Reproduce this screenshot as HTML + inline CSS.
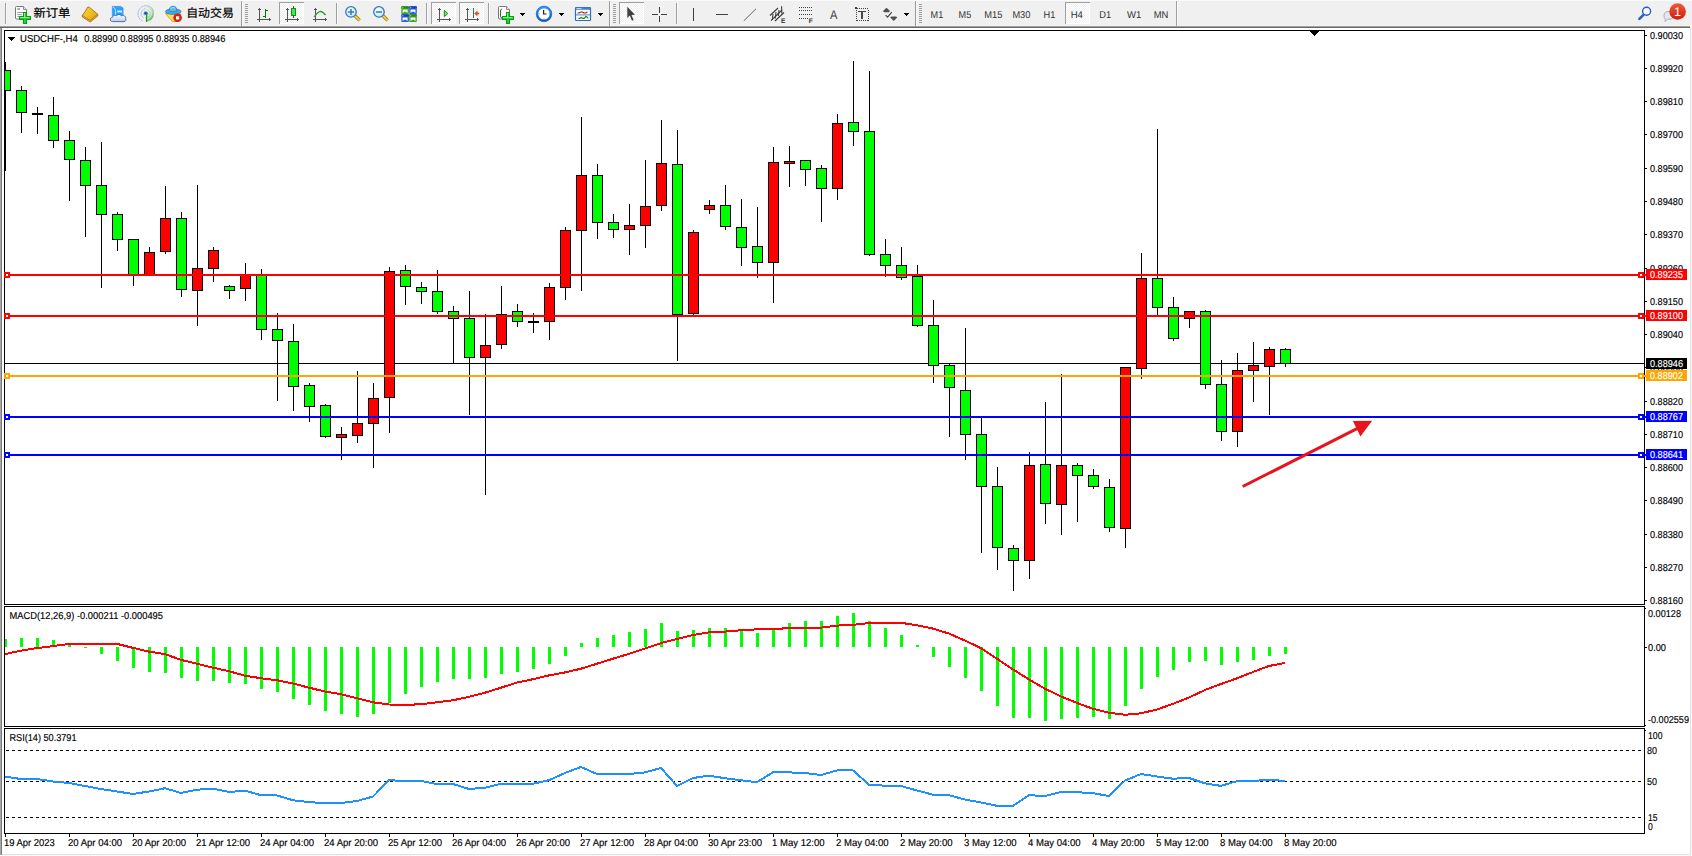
<!DOCTYPE html>
<html lang="zh"><head><meta charset="utf-8"><title>USDCHF-,H4</title>
<style>
html,body{margin:0;padding:0;background:#fff}
body{width:1692px;height:856px;overflow:hidden;position:relative}
svg{position:absolute;left:0;top:0;display:block}
text{font-family:"Liberation Sans","Noto Sans CJK SC",sans-serif}
</style></head><body>
<svg width="1692" height="856" viewBox="0 0 1692 856">
<rect x="0" y="0" width="1692" height="856" fill="#fff"/>
<g shape-rendering="crispEdges">
<rect x="0" y="27" width="1" height="828" fill="#a8a8a8"/>
<rect x="1" y="27" width="1" height="828" fill="#7a7a7a"/>
<rect x="1690" y="28" width="1" height="827" fill="#e3e3e3"/>
<rect x="1691" y="28" width="1" height="828" fill="#f8f8f8"/>
<rect x="2" y="854" width="1689" height="1" fill="#e3e3e3"/>
<rect x="2" y="855" width="1690" height="1" fill="#f8f8f8"/>
<rect x="1644" y="30" width="1" height="575" fill="#000000"/>
<rect x="4" y="30" width="1" height="575" fill="#000000"/>
<rect x="1644" y="606" width="1" height="121" fill="#000000"/>
<rect x="4" y="606" width="1" height="121" fill="#000000"/>
<rect x="1644" y="728" width="1" height="106" fill="#000000"/>
<rect x="4" y="728" width="1" height="106" fill="#000000"/>
<rect x="1645" y="608" width="1" height="1" fill="#000000"/>
<rect x="1645" y="725" width="1" height="1" fill="#000000"/>
<rect x="1645" y="730" width="1" height="1" fill="#000000"/>
<rect x="4" y="30" width="1641" height="1" fill="#000000"/>
<rect x="4" y="604" width="1641" height="1" fill="#000000"/>
<rect x="4" y="606" width="1641" height="1" fill="#000000"/>
<rect x="4" y="726" width="1641" height="1" fill="#000000"/>
<rect x="4" y="728" width="1641" height="1" fill="#000000"/>
<rect x="4" y="833" width="1641" height="1" fill="#000000"/>
<rect x="5" y="363" width="1639" height="1" fill="#000000"/>
<rect x="5" y="62" width="1" height="109" fill="#000000"/>
<rect x="5" y="70" width="6" height="21" fill="#000000"/>
<rect x="5" y="71" width="5" height="19" fill="#00FF00"/>
<rect x="21" y="86" width="1" height="47" fill="#000000"/>
<rect x="16" y="90" width="11" height="23" fill="#000000"/>
<rect x="17" y="91" width="9" height="21" fill="#00FF00"/>
<rect x="37" y="107" width="1" height="27" fill="#000000"/>
<rect x="32" y="113" width="11" height="2" fill="#000000"/>
<rect x="53" y="97" width="1" height="51" fill="#000000"/>
<rect x="48" y="115" width="11" height="26" fill="#000000"/>
<rect x="49" y="116" width="9" height="24" fill="#00FF00"/>
<rect x="69" y="131" width="1" height="70" fill="#000000"/>
<rect x="64" y="140" width="11" height="20" fill="#000000"/>
<rect x="65" y="141" width="9" height="18" fill="#00FF00"/>
<rect x="85" y="147" width="1" height="90" fill="#000000"/>
<rect x="80" y="160" width="11" height="26" fill="#000000"/>
<rect x="81" y="161" width="9" height="24" fill="#00FF00"/>
<rect x="101" y="142" width="1" height="146" fill="#000000"/>
<rect x="96" y="185" width="11" height="30" fill="#000000"/>
<rect x="97" y="186" width="9" height="28" fill="#00FF00"/>
<rect x="117" y="212" width="1" height="39" fill="#000000"/>
<rect x="112" y="214" width="11" height="26" fill="#000000"/>
<rect x="113" y="215" width="9" height="24" fill="#00FF00"/>
<rect x="133" y="239" width="1" height="47" fill="#000000"/>
<rect x="128" y="239" width="11" height="37" fill="#000000"/>
<rect x="129" y="240" width="9" height="35" fill="#00FF00"/>
<rect x="149" y="247" width="1" height="29" fill="#000000"/>
<rect x="144" y="252" width="11" height="24" fill="#000000"/>
<rect x="145" y="253" width="9" height="22" fill="#FF0000"/>
<rect x="165" y="186" width="1" height="68" fill="#000000"/>
<rect x="160" y="218" width="11" height="34" fill="#000000"/>
<rect x="161" y="219" width="9" height="32" fill="#FF0000"/>
<rect x="181" y="212" width="1" height="85" fill="#000000"/>
<rect x="176" y="218" width="11" height="72" fill="#000000"/>
<rect x="177" y="219" width="9" height="70" fill="#00FF00"/>
<rect x="197" y="185" width="1" height="141" fill="#000000"/>
<rect x="192" y="268" width="11" height="23" fill="#000000"/>
<rect x="193" y="269" width="9" height="21" fill="#FF0000"/>
<rect x="213" y="247" width="1" height="35" fill="#000000"/>
<rect x="208" y="250" width="11" height="19" fill="#000000"/>
<rect x="209" y="251" width="9" height="17" fill="#FF0000"/>
<rect x="229" y="285" width="1" height="14" fill="#000000"/>
<rect x="224" y="286" width="11" height="5" fill="#000000"/>
<rect x="225" y="287" width="9" height="3" fill="#00FF00"/>
<rect x="245" y="263" width="1" height="38" fill="#000000"/>
<rect x="240" y="274" width="11" height="15" fill="#000000"/>
<rect x="241" y="275" width="9" height="13" fill="#FF0000"/>
<rect x="261" y="269" width="1" height="71" fill="#000000"/>
<rect x="256" y="274" width="11" height="56" fill="#000000"/>
<rect x="257" y="275" width="9" height="54" fill="#00FF00"/>
<rect x="277" y="313" width="1" height="88" fill="#000000"/>
<rect x="272" y="329" width="11" height="12" fill="#000000"/>
<rect x="273" y="330" width="9" height="10" fill="#00FF00"/>
<rect x="293" y="324" width="1" height="87" fill="#000000"/>
<rect x="288" y="341" width="11" height="46" fill="#000000"/>
<rect x="289" y="342" width="9" height="44" fill="#00FF00"/>
<rect x="309" y="383" width="1" height="39" fill="#000000"/>
<rect x="304" y="385" width="11" height="22" fill="#000000"/>
<rect x="305" y="386" width="9" height="20" fill="#00FF00"/>
<rect x="325" y="404" width="1" height="34" fill="#000000"/>
<rect x="320" y="405" width="11" height="32" fill="#000000"/>
<rect x="321" y="406" width="9" height="30" fill="#00FF00"/>
<rect x="341" y="427" width="1" height="33" fill="#000000"/>
<rect x="336" y="434" width="11" height="4" fill="#000000"/>
<rect x="337" y="435" width="9" height="2" fill="#FF0000"/>
<rect x="357" y="371" width="1" height="72" fill="#000000"/>
<rect x="352" y="423" width="11" height="13" fill="#000000"/>
<rect x="353" y="424" width="9" height="11" fill="#FF0000"/>
<rect x="373" y="383" width="1" height="85" fill="#000000"/>
<rect x="368" y="398" width="11" height="26" fill="#000000"/>
<rect x="369" y="399" width="9" height="24" fill="#FF0000"/>
<rect x="389" y="267" width="1" height="166" fill="#000000"/>
<rect x="384" y="271" width="11" height="127" fill="#000000"/>
<rect x="385" y="272" width="9" height="125" fill="#FF0000"/>
<rect x="405" y="265" width="1" height="40" fill="#000000"/>
<rect x="400" y="270" width="11" height="17" fill="#000000"/>
<rect x="401" y="271" width="9" height="15" fill="#00FF00"/>
<rect x="421" y="282" width="1" height="22" fill="#000000"/>
<rect x="416" y="287" width="11" height="5" fill="#000000"/>
<rect x="417" y="288" width="9" height="3" fill="#00FF00"/>
<rect x="437" y="270" width="1" height="44" fill="#000000"/>
<rect x="432" y="291" width="11" height="21" fill="#000000"/>
<rect x="433" y="292" width="9" height="19" fill="#00FF00"/>
<rect x="453" y="306" width="1" height="58" fill="#000000"/>
<rect x="448" y="311" width="11" height="8" fill="#000000"/>
<rect x="449" y="312" width="9" height="6" fill="#00FF00"/>
<rect x="469" y="291" width="1" height="124" fill="#000000"/>
<rect x="464" y="318" width="11" height="40" fill="#000000"/>
<rect x="465" y="319" width="9" height="38" fill="#00FF00"/>
<rect x="485" y="314" width="1" height="181" fill="#000000"/>
<rect x="480" y="345" width="11" height="13" fill="#000000"/>
<rect x="481" y="346" width="9" height="11" fill="#FF0000"/>
<rect x="501" y="286" width="1" height="63" fill="#000000"/>
<rect x="496" y="314" width="11" height="31" fill="#000000"/>
<rect x="497" y="315" width="9" height="29" fill="#FF0000"/>
<rect x="517" y="304" width="1" height="23" fill="#000000"/>
<rect x="512" y="311" width="11" height="11" fill="#000000"/>
<rect x="513" y="312" width="9" height="9" fill="#00FF00"/>
<rect x="533" y="313" width="1" height="20" fill="#000000"/>
<rect x="528" y="321" width="11" height="2" fill="#000000"/>
<rect x="549" y="283" width="1" height="57" fill="#000000"/>
<rect x="544" y="287" width="11" height="35" fill="#000000"/>
<rect x="545" y="288" width="9" height="33" fill="#FF0000"/>
<rect x="565" y="227" width="1" height="73" fill="#000000"/>
<rect x="560" y="230" width="11" height="58" fill="#000000"/>
<rect x="561" y="231" width="9" height="56" fill="#FF0000"/>
<rect x="581" y="117" width="1" height="174" fill="#000000"/>
<rect x="576" y="175" width="11" height="56" fill="#000000"/>
<rect x="577" y="176" width="9" height="54" fill="#FF0000"/>
<rect x="597" y="164" width="1" height="75" fill="#000000"/>
<rect x="592" y="175" width="11" height="48" fill="#000000"/>
<rect x="593" y="176" width="9" height="46" fill="#00FF00"/>
<rect x="613" y="214" width="1" height="24" fill="#000000"/>
<rect x="608" y="222" width="11" height="8" fill="#000000"/>
<rect x="609" y="223" width="9" height="6" fill="#00FF00"/>
<rect x="629" y="204" width="1" height="51" fill="#000000"/>
<rect x="624" y="225" width="11" height="5" fill="#000000"/>
<rect x="625" y="226" width="9" height="3" fill="#FF0000"/>
<rect x="645" y="160" width="1" height="88" fill="#000000"/>
<rect x="640" y="206" width="11" height="20" fill="#000000"/>
<rect x="641" y="207" width="9" height="18" fill="#FF0000"/>
<rect x="661" y="120" width="1" height="91" fill="#000000"/>
<rect x="656" y="163" width="11" height="43" fill="#000000"/>
<rect x="657" y="164" width="9" height="41" fill="#FF0000"/>
<rect x="677" y="130" width="1" height="231" fill="#000000"/>
<rect x="672" y="164" width="11" height="151" fill="#000000"/>
<rect x="673" y="165" width="9" height="149" fill="#00FF00"/>
<rect x="693" y="230" width="1" height="85" fill="#000000"/>
<rect x="688" y="232" width="11" height="82" fill="#000000"/>
<rect x="689" y="233" width="9" height="80" fill="#FF0000"/>
<rect x="709" y="200" width="1" height="14" fill="#000000"/>
<rect x="704" y="205" width="11" height="5" fill="#000000"/>
<rect x="705" y="206" width="9" height="3" fill="#FF0000"/>
<rect x="725" y="185" width="1" height="45" fill="#000000"/>
<rect x="720" y="205" width="11" height="22" fill="#000000"/>
<rect x="721" y="206" width="9" height="20" fill="#00FF00"/>
<rect x="741" y="199" width="1" height="67" fill="#000000"/>
<rect x="736" y="227" width="11" height="21" fill="#000000"/>
<rect x="737" y="228" width="9" height="19" fill="#00FF00"/>
<rect x="757" y="207" width="1" height="71" fill="#000000"/>
<rect x="752" y="246" width="11" height="17" fill="#000000"/>
<rect x="753" y="247" width="9" height="15" fill="#00FF00"/>
<rect x="773" y="147" width="1" height="156" fill="#000000"/>
<rect x="768" y="162" width="11" height="101" fill="#000000"/>
<rect x="769" y="163" width="9" height="99" fill="#FF0000"/>
<rect x="789" y="146" width="1" height="41" fill="#000000"/>
<rect x="784" y="161" width="11" height="3" fill="#000000"/>
<rect x="785" y="162" width="9" height="1" fill="#FF0000"/>
<rect x="805" y="160" width="1" height="26" fill="#000000"/>
<rect x="800" y="160" width="11" height="10" fill="#000000"/>
<rect x="801" y="161" width="9" height="8" fill="#00FF00"/>
<rect x="821" y="165" width="1" height="57" fill="#000000"/>
<rect x="816" y="168" width="11" height="21" fill="#000000"/>
<rect x="817" y="169" width="9" height="19" fill="#00FF00"/>
<rect x="837" y="114" width="1" height="86" fill="#000000"/>
<rect x="832" y="123" width="11" height="66" fill="#000000"/>
<rect x="833" y="124" width="9" height="64" fill="#FF0000"/>
<rect x="853" y="61" width="1" height="85" fill="#000000"/>
<rect x="848" y="122" width="11" height="10" fill="#000000"/>
<rect x="849" y="123" width="9" height="8" fill="#00FF00"/>
<rect x="869" y="71" width="1" height="185" fill="#000000"/>
<rect x="864" y="131" width="11" height="124" fill="#000000"/>
<rect x="865" y="132" width="9" height="122" fill="#00FF00"/>
<rect x="885" y="239" width="1" height="38" fill="#000000"/>
<rect x="880" y="254" width="11" height="12" fill="#000000"/>
<rect x="881" y="255" width="9" height="10" fill="#00FF00"/>
<rect x="901" y="247" width="1" height="33" fill="#000000"/>
<rect x="896" y="265" width="11" height="13" fill="#000000"/>
<rect x="897" y="266" width="9" height="11" fill="#00FF00"/>
<rect x="917" y="265" width="1" height="62" fill="#000000"/>
<rect x="912" y="276" width="11" height="50" fill="#000000"/>
<rect x="913" y="277" width="9" height="48" fill="#00FF00"/>
<rect x="933" y="300" width="1" height="83" fill="#000000"/>
<rect x="928" y="325" width="11" height="41" fill="#000000"/>
<rect x="929" y="326" width="9" height="39" fill="#00FF00"/>
<rect x="949" y="364" width="1" height="73" fill="#000000"/>
<rect x="944" y="365" width="11" height="23" fill="#000000"/>
<rect x="945" y="366" width="9" height="21" fill="#00FF00"/>
<rect x="965" y="328" width="1" height="132" fill="#000000"/>
<rect x="960" y="390" width="11" height="45" fill="#000000"/>
<rect x="961" y="391" width="9" height="43" fill="#00FF00"/>
<rect x="981" y="418" width="1" height="135" fill="#000000"/>
<rect x="976" y="434" width="11" height="53" fill="#000000"/>
<rect x="977" y="435" width="9" height="51" fill="#00FF00"/>
<rect x="997" y="467" width="1" height="103" fill="#000000"/>
<rect x="992" y="486" width="11" height="62" fill="#000000"/>
<rect x="993" y="487" width="9" height="60" fill="#00FF00"/>
<rect x="1013" y="545" width="1" height="46" fill="#000000"/>
<rect x="1008" y="548" width="11" height="13" fill="#000000"/>
<rect x="1009" y="549" width="9" height="11" fill="#00FF00"/>
<rect x="1029" y="452" width="1" height="127" fill="#000000"/>
<rect x="1024" y="465" width="11" height="96" fill="#000000"/>
<rect x="1025" y="466" width="9" height="94" fill="#FF0000"/>
<rect x="1045" y="402" width="1" height="122" fill="#000000"/>
<rect x="1040" y="464" width="11" height="40" fill="#000000"/>
<rect x="1041" y="465" width="9" height="38" fill="#00FF00"/>
<rect x="1061" y="374" width="1" height="161" fill="#000000"/>
<rect x="1056" y="465" width="11" height="40" fill="#000000"/>
<rect x="1057" y="466" width="9" height="38" fill="#FF0000"/>
<rect x="1077" y="463" width="1" height="59" fill="#000000"/>
<rect x="1072" y="465" width="11" height="11" fill="#000000"/>
<rect x="1073" y="466" width="9" height="9" fill="#00FF00"/>
<rect x="1093" y="469" width="1" height="20" fill="#000000"/>
<rect x="1088" y="475" width="11" height="12" fill="#000000"/>
<rect x="1089" y="476" width="9" height="10" fill="#00FF00"/>
<rect x="1109" y="479" width="1" height="53" fill="#000000"/>
<rect x="1104" y="487" width="11" height="41" fill="#000000"/>
<rect x="1105" y="488" width="9" height="39" fill="#00FF00"/>
<rect x="1125" y="367" width="1" height="181" fill="#000000"/>
<rect x="1120" y="367" width="11" height="162" fill="#000000"/>
<rect x="1121" y="368" width="9" height="160" fill="#FF0000"/>
<rect x="1141" y="253" width="1" height="126" fill="#000000"/>
<rect x="1136" y="278" width="11" height="91" fill="#000000"/>
<rect x="1137" y="279" width="9" height="89" fill="#FF0000"/>
<rect x="1157" y="129" width="1" height="186" fill="#000000"/>
<rect x="1152" y="278" width="11" height="30" fill="#000000"/>
<rect x="1153" y="279" width="9" height="28" fill="#00FF00"/>
<rect x="1173" y="297" width="1" height="44" fill="#000000"/>
<rect x="1168" y="307" width="11" height="32" fill="#000000"/>
<rect x="1169" y="308" width="9" height="30" fill="#00FF00"/>
<rect x="1189" y="311" width="1" height="17" fill="#000000"/>
<rect x="1184" y="311" width="11" height="8" fill="#000000"/>
<rect x="1185" y="312" width="9" height="6" fill="#FF0000"/>
<rect x="1205" y="310" width="1" height="79" fill="#000000"/>
<rect x="1200" y="311" width="11" height="74" fill="#000000"/>
<rect x="1201" y="312" width="9" height="72" fill="#00FF00"/>
<rect x="1221" y="360" width="1" height="81" fill="#000000"/>
<rect x="1216" y="384" width="11" height="48" fill="#000000"/>
<rect x="1217" y="385" width="9" height="46" fill="#00FF00"/>
<rect x="1237" y="353" width="1" height="94" fill="#000000"/>
<rect x="1232" y="370" width="11" height="62" fill="#000000"/>
<rect x="1233" y="371" width="9" height="60" fill="#FF0000"/>
<rect x="1253" y="342" width="1" height="60" fill="#000000"/>
<rect x="1248" y="365" width="11" height="6" fill="#000000"/>
<rect x="1249" y="366" width="9" height="4" fill="#FF0000"/>
<rect x="1269" y="347" width="1" height="68" fill="#000000"/>
<rect x="1264" y="349" width="11" height="18" fill="#000000"/>
<rect x="1265" y="350" width="9" height="16" fill="#FF0000"/>
<rect x="1285" y="348" width="1" height="19" fill="#000000"/>
<rect x="1280" y="349" width="11" height="15" fill="#000000"/>
<rect x="1281" y="350" width="9" height="13" fill="#00FF00"/>
<rect x="4" y="274" width="1642" height="2" fill="#FF0000"/>
<rect x="4" y="272" width="6" height="6" fill="#FF0000"/>
<rect x="6" y="274" width="2" height="2" fill="#fff"/>
<rect x="1638" y="272" width="6" height="6" fill="#FF0000"/>
<rect x="1640" y="274" width="2" height="2" fill="#fff"/>
<rect x="4" y="315" width="1642" height="2" fill="#FF0000"/>
<rect x="4" y="313" width="6" height="6" fill="#FF0000"/>
<rect x="6" y="315" width="2" height="2" fill="#fff"/>
<rect x="1638" y="313" width="6" height="6" fill="#FF0000"/>
<rect x="1640" y="315" width="2" height="2" fill="#fff"/>
<rect x="4" y="375" width="1642" height="2" fill="#FFA500"/>
<rect x="4" y="373" width="6" height="6" fill="#FFA500"/>
<rect x="6" y="375" width="2" height="2" fill="#fff"/>
<rect x="1638" y="373" width="6" height="6" fill="#FFA500"/>
<rect x="1640" y="375" width="2" height="2" fill="#fff"/>
<rect x="4" y="416" width="1642" height="2" fill="#0000FF"/>
<rect x="4" y="414" width="6" height="6" fill="#0000FF"/>
<rect x="6" y="416" width="2" height="2" fill="#fff"/>
<rect x="1638" y="414" width="6" height="6" fill="#0000FF"/>
<rect x="1640" y="416" width="2" height="2" fill="#fff"/>
<rect x="4" y="454" width="1642" height="2" fill="#0000FF"/>
<rect x="4" y="452" width="6" height="6" fill="#0000FF"/>
<rect x="6" y="454" width="2" height="2" fill="#fff"/>
<rect x="1638" y="452" width="6" height="6" fill="#0000FF"/>
<rect x="1640" y="454" width="2" height="2" fill="#fff"/>
<rect x="5" y="639" width="2" height="8" fill="#00FF00"/>
<rect x="20" y="638" width="3" height="9" fill="#00FF00"/>
<rect x="36" y="638" width="3" height="9" fill="#00FF00"/>
<rect x="52" y="640" width="3" height="7" fill="#00FF00"/>
<rect x="68" y="643" width="3" height="4" fill="#00FF00"/>
<rect x="84" y="647" width="3" height="1" fill="#00FF00"/>
<rect x="100" y="647" width="3" height="7" fill="#00FF00"/>
<rect x="116" y="647" width="3" height="14" fill="#00FF00"/>
<rect x="132" y="647" width="3" height="21" fill="#00FF00"/>
<rect x="148" y="647" width="3" height="25" fill="#00FF00"/>
<rect x="164" y="647" width="3" height="26" fill="#00FF00"/>
<rect x="180" y="647" width="3" height="31" fill="#00FF00"/>
<rect x="196" y="647" width="3" height="34" fill="#00FF00"/>
<rect x="212" y="647" width="3" height="34" fill="#00FF00"/>
<rect x="228" y="647" width="3" height="36" fill="#00FF00"/>
<rect x="244" y="647" width="3" height="37" fill="#00FF00"/>
<rect x="260" y="647" width="3" height="42" fill="#00FF00"/>
<rect x="276" y="647" width="3" height="45" fill="#00FF00"/>
<rect x="292" y="647" width="3" height="52" fill="#00FF00"/>
<rect x="308" y="647" width="3" height="58" fill="#00FF00"/>
<rect x="324" y="647" width="3" height="64" fill="#00FF00"/>
<rect x="340" y="647" width="3" height="67" fill="#00FF00"/>
<rect x="356" y="647" width="3" height="70" fill="#00FF00"/>
<rect x="372" y="647" width="3" height="67" fill="#00FF00"/>
<rect x="388" y="647" width="3" height="56" fill="#00FF00"/>
<rect x="404" y="647" width="3" height="47" fill="#00FF00"/>
<rect x="420" y="647" width="3" height="40" fill="#00FF00"/>
<rect x="436" y="647" width="3" height="35" fill="#00FF00"/>
<rect x="452" y="647" width="3" height="32" fill="#00FF00"/>
<rect x="468" y="647" width="3" height="32" fill="#00FF00"/>
<rect x="484" y="647" width="3" height="31" fill="#00FF00"/>
<rect x="500" y="647" width="3" height="27" fill="#00FF00"/>
<rect x="516" y="647" width="3" height="25" fill="#00FF00"/>
<rect x="532" y="647" width="3" height="22" fill="#00FF00"/>
<rect x="548" y="647" width="3" height="17" fill="#00FF00"/>
<rect x="564" y="647" width="3" height="9" fill="#00FF00"/>
<rect x="580" y="643" width="3" height="4" fill="#00FF00"/>
<rect x="596" y="638" width="3" height="9" fill="#00FF00"/>
<rect x="612" y="635" width="3" height="12" fill="#00FF00"/>
<rect x="628" y="632" width="3" height="15" fill="#00FF00"/>
<rect x="644" y="629" width="3" height="18" fill="#00FF00"/>
<rect x="660" y="623" width="3" height="24" fill="#00FF00"/>
<rect x="676" y="631" width="3" height="16" fill="#00FF00"/>
<rect x="692" y="630" width="3" height="17" fill="#00FF00"/>
<rect x="708" y="628" width="3" height="19" fill="#00FF00"/>
<rect x="724" y="628" width="3" height="19" fill="#00FF00"/>
<rect x="740" y="631" width="3" height="16" fill="#00FF00"/>
<rect x="756" y="633" width="3" height="14" fill="#00FF00"/>
<rect x="772" y="630" width="3" height="17" fill="#00FF00"/>
<rect x="788" y="623" width="3" height="24" fill="#00FF00"/>
<rect x="804" y="621" width="3" height="26" fill="#00FF00"/>
<rect x="820" y="621" width="3" height="26" fill="#00FF00"/>
<rect x="836" y="616" width="3" height="31" fill="#00FF00"/>
<rect x="852" y="613" width="3" height="34" fill="#00FF00"/>
<rect x="868" y="621" width="3" height="26" fill="#00FF00"/>
<rect x="884" y="628" width="3" height="19" fill="#00FF00"/>
<rect x="900" y="635" width="3" height="12" fill="#00FF00"/>
<rect x="916" y="645" width="3" height="2" fill="#00FF00"/>
<rect x="932" y="647" width="3" height="10" fill="#00FF00"/>
<rect x="948" y="647" width="3" height="20" fill="#00FF00"/>
<rect x="964" y="647" width="3" height="31" fill="#00FF00"/>
<rect x="980" y="647" width="3" height="44" fill="#00FF00"/>
<rect x="996" y="647" width="3" height="59" fill="#00FF00"/>
<rect x="1012" y="647" width="3" height="71" fill="#00FF00"/>
<rect x="1028" y="647" width="3" height="71" fill="#00FF00"/>
<rect x="1044" y="647" width="3" height="74" fill="#00FF00"/>
<rect x="1060" y="647" width="3" height="72" fill="#00FF00"/>
<rect x="1076" y="647" width="3" height="71" fill="#00FF00"/>
<rect x="1092" y="647" width="3" height="70" fill="#00FF00"/>
<rect x="1108" y="647" width="3" height="72" fill="#00FF00"/>
<rect x="1124" y="647" width="3" height="59" fill="#00FF00"/>
<rect x="1140" y="647" width="3" height="42" fill="#00FF00"/>
<rect x="1156" y="647" width="3" height="30" fill="#00FF00"/>
<rect x="1172" y="647" width="3" height="23" fill="#00FF00"/>
<rect x="1188" y="647" width="3" height="15" fill="#00FF00"/>
<rect x="1204" y="647" width="3" height="14" fill="#00FF00"/>
<rect x="1220" y="647" width="3" height="18" fill="#00FF00"/>
<rect x="1236" y="647" width="3" height="15" fill="#00FF00"/>
<rect x="1252" y="647" width="3" height="13" fill="#00FF00"/>
<rect x="1268" y="647" width="3" height="9" fill="#00FF00"/>
<rect x="1284" y="647" width="3" height="7" fill="#00FF00"/>
</g>
<polyline points="5,654.1 21,650.6 37,648.1 53,646.1 69,643.9 85,643.6 101,643.6 117,643.9 133,647.9 149,651.6 165,654.1 181,659.9 197,663.7 213,667.7 229,671.2 245,675.7 261,678.2 277,680.2 293,683.5 309,687.7 325,691.5 341,694.2 357,698.3 373,702.3 389,704.5 405,704.8 421,704.3 437,702.3 453,700.3 469,696.8 485,692.7 501,687.7 517,682.5 533,679.2 549,675.4 565,672.4 581,668.7 597,663.7 613,658.7 629,653.9 645,648.6 661,643.1 677,639.1 693,635.1 709,632.3 725,631.6 741,630.3 757,629.3 773,628.8 789,628.3 805,628.1 821,627.6 837,625.6 853,624.8 869,623.1 885,622.6 901,622.8 917,625.3 933,628.6 949,633.6 965,640.6 981,648.1 997,658.7 1013,669.4 1029,679.5 1045,688.7 1061,696.5 1077,703.0 1093,708.8 1109,712.8 1125,714.8 1141,713.3 1157,709.5 1173,703.8 1189,697.5 1205,690.0 1221,684.0 1237,678.3 1253,672.0 1269,666.0 1285,662.9" fill="none" stroke="#FF0000" stroke-width="2" stroke-linejoin="round" shape-rendering="crispEdges"/>
<g shape-rendering="crispEdges">
<line x1="6" y1="750.5" x2="1644" y2="750.5" stroke="#000" stroke-width="1" stroke-dasharray="3 3"/>
<line x1="6" y1="781.5" x2="1644" y2="781.5" stroke="#000" stroke-width="1" stroke-dasharray="3 3"/>
<line x1="6" y1="817.5" x2="1644" y2="817.5" stroke="#000" stroke-width="1" stroke-dasharray="3 3"/>
</g>
<polyline points="5,776.7 21,779.0 37,779.0 53,781.5 69,783.0 85,786.0 101,789.0 117,791.5 133,794.0 149,791.5 165,788.2 181,793.0 197,789.7 213,788.7 229,792.0 245,790.7 261,795.2 277,795.5 293,800.3 309,802.0 325,803.3 341,803.0 357,801.0 373,796.5 389,780.2 405,781.0 421,781.0 437,784.0 453,784.0 469,789.0 485,787.7 501,783.7 517,783.7 533,783.7 549,780.2 565,773.0 581,767.0 597,774.0 613,774.0 629,774.0 645,772.4 661,768.0 677,786.0 693,778.0 709,775.7 725,778.2 741,780.2 757,782.2 773,772.2 789,772.4 805,773.0 821,775.0 837,770.4 853,770.4 869,784.7 885,785.7 901,786.0 917,790.5 933,794.7 949,795.2 965,799.5 981,802.5 997,805.8 1013,805.8 1029,795.2 1045,796.0 1061,792.0 1077,792.2 1093,793.2 1109,796.0 1125,780.5 1141,774.0 1157,776.5 1173,778.7 1189,778.0 1205,783.4 1221,785.9 1237,781.1 1253,780.9 1269,779.9 1285,780.9" fill="none" stroke="#1E90FF" stroke-width="2" stroke-linejoin="round" shape-rendering="crispEdges"/>
<line x1="1242.7" y1="486.5" x2="1358" y2="428.2" stroke="#E8141C" stroke-width="3"/>
<polygon points="1352.9,420.9 1372.2,420.7 1360.4,436.6" fill="#E8141C"/>
<g shape-rendering="crispEdges">
<rect x="1645" y="35" width="2" height="1" fill="#000000"/>
<rect x="1645" y="68" width="2" height="1" fill="#000000"/>
<rect x="1645" y="101" width="2" height="1" fill="#000000"/>
<rect x="1645" y="134" width="2" height="1" fill="#000000"/>
<rect x="1645" y="168" width="2" height="1" fill="#000000"/>
<rect x="1645" y="201" width="2" height="1" fill="#000000"/>
<rect x="1645" y="234" width="2" height="1" fill="#000000"/>
<rect x="1645" y="268" width="2" height="1" fill="#000000"/>
<rect x="1645" y="301" width="2" height="1" fill="#000000"/>
<rect x="1645" y="334" width="2" height="1" fill="#000000"/>
<rect x="1645" y="367" width="2" height="1" fill="#000000"/>
<rect x="1645" y="401" width="2" height="1" fill="#000000"/>
<rect x="1645" y="434" width="2" height="1" fill="#000000"/>
<rect x="1645" y="467" width="2" height="1" fill="#000000"/>
<rect x="1645" y="500" width="2" height="1" fill="#000000"/>
<rect x="1645" y="534" width="2" height="1" fill="#000000"/>
<rect x="1645" y="567" width="2" height="1" fill="#000000"/>
<rect x="1645" y="600" width="2" height="1" fill="#000000"/>
<rect x="1645" y="647" width="2" height="1" fill="#000000"/>
<rect x="5" y="834" width="1" height="3" fill="#000000"/>
<rect x="69" y="834" width="1" height="3" fill="#000000"/>
<rect x="133" y="834" width="1" height="3" fill="#000000"/>
<rect x="197" y="834" width="1" height="3" fill="#000000"/>
<rect x="261" y="834" width="1" height="3" fill="#000000"/>
<rect x="325" y="834" width="1" height="3" fill="#000000"/>
<rect x="389" y="834" width="1" height="3" fill="#000000"/>
<rect x="453" y="834" width="1" height="3" fill="#000000"/>
<rect x="517" y="834" width="1" height="3" fill="#000000"/>
<rect x="581" y="834" width="1" height="3" fill="#000000"/>
<rect x="645" y="834" width="1" height="3" fill="#000000"/>
<rect x="709" y="834" width="1" height="3" fill="#000000"/>
<rect x="773" y="834" width="1" height="3" fill="#000000"/>
<rect x="837" y="834" width="1" height="3" fill="#000000"/>
<rect x="901" y="834" width="1" height="3" fill="#000000"/>
<rect x="965" y="834" width="1" height="3" fill="#000000"/>
<rect x="1029" y="834" width="1" height="3" fill="#000000"/>
<rect x="1093" y="834" width="1" height="3" fill="#000000"/>
<rect x="1157" y="834" width="1" height="3" fill="#000000"/>
<rect x="1221" y="834" width="1" height="3" fill="#000000"/>
<rect x="1285" y="834" width="1" height="3" fill="#000000"/>
</g>
<g font-family="Liberation Sans, Noto Sans CJK SC, sans-serif" font-size="10" stroke="#000" stroke-width="0.15" text-rendering="geometricPrecision">
<text x="1650" y="39" font-size="10" fill="#000" textLength="33" lengthAdjust="spacingAndGlyphs">0.90030</text>
<text x="1650" y="72" font-size="10" fill="#000" textLength="33" lengthAdjust="spacingAndGlyphs">0.89920</text>
<text x="1650" y="105" font-size="10" fill="#000" textLength="33" lengthAdjust="spacingAndGlyphs">0.89810</text>
<text x="1650" y="138" font-size="10" fill="#000" textLength="33" lengthAdjust="spacingAndGlyphs">0.89700</text>
<text x="1650" y="172" font-size="10" fill="#000" textLength="33" lengthAdjust="spacingAndGlyphs">0.89590</text>
<text x="1650" y="205" font-size="10" fill="#000" textLength="33" lengthAdjust="spacingAndGlyphs">0.89480</text>
<text x="1650" y="238" font-size="10" fill="#000" textLength="33" lengthAdjust="spacingAndGlyphs">0.89370</text>
<text x="1650" y="272" font-size="10" fill="#000" textLength="33" lengthAdjust="spacingAndGlyphs">0.89260</text>
<text x="1650" y="305" font-size="10" fill="#000" textLength="33" lengthAdjust="spacingAndGlyphs">0.89150</text>
<text x="1650" y="338" font-size="10" fill="#000" textLength="33" lengthAdjust="spacingAndGlyphs">0.89040</text>
<text x="1650" y="371" font-size="10" fill="#000" textLength="33" lengthAdjust="spacingAndGlyphs">0.88930</text>
<text x="1650" y="405" font-size="10" fill="#000" textLength="33" lengthAdjust="spacingAndGlyphs">0.88820</text>
<text x="1650" y="438" font-size="10" fill="#000" textLength="33" lengthAdjust="spacingAndGlyphs">0.88710</text>
<text x="1650" y="471" font-size="10" fill="#000" textLength="33" lengthAdjust="spacingAndGlyphs">0.88600</text>
<text x="1650" y="504" font-size="10" fill="#000" textLength="33" lengthAdjust="spacingAndGlyphs">0.88490</text>
<text x="1650" y="538" font-size="10" fill="#000" textLength="33" lengthAdjust="spacingAndGlyphs">0.88380</text>
<text x="1650" y="571" font-size="10" fill="#000" textLength="33" lengthAdjust="spacingAndGlyphs">0.88270</text>
<text x="1650" y="604" font-size="10" fill="#000" textLength="33" lengthAdjust="spacingAndGlyphs">0.88160</text>
<text x="1648" y="617" font-size="10" fill="#000" textLength="33" lengthAdjust="spacingAndGlyphs">0.00128</text>
<text x="1648" y="651" font-size="10" fill="#000" textLength="18" lengthAdjust="spacingAndGlyphs">0.00</text>
<text x="1648" y="723" font-size="10" fill="#000" textLength="41" lengthAdjust="spacingAndGlyphs">-0.002559</text>
<text x="1648" y="739" font-size="10" fill="#000" textLength="14.5" lengthAdjust="spacingAndGlyphs">100</text>
<text x="1646.9" y="754" font-size="10" fill="#000" textLength="10" lengthAdjust="spacingAndGlyphs">80</text>
<text x="1646.9" y="785" font-size="10" fill="#000" textLength="10" lengthAdjust="spacingAndGlyphs">50</text>
<text x="1648" y="821" font-size="10" fill="#000" textLength="9.5" lengthAdjust="spacingAndGlyphs">15</text>
<text x="1648" y="830" font-size="10" fill="#000" textLength="4.8" lengthAdjust="spacingAndGlyphs">0</text>
<text x="4" y="846" font-size="10" fill="#000" textLength="50.8" lengthAdjust="spacingAndGlyphs">19 Apr 2023</text>
<text x="68" y="846" font-size="10" fill="#000" textLength="54" lengthAdjust="spacingAndGlyphs">20 Apr 04:00</text>
<text x="132" y="846" font-size="10" fill="#000" textLength="54" lengthAdjust="spacingAndGlyphs">20 Apr 20:00</text>
<text x="196" y="846" font-size="10" fill="#000" textLength="54" lengthAdjust="spacingAndGlyphs">21 Apr 12:00</text>
<text x="260" y="846" font-size="10" fill="#000" textLength="54" lengthAdjust="spacingAndGlyphs">24 Apr 04:00</text>
<text x="324" y="846" font-size="10" fill="#000" textLength="54" lengthAdjust="spacingAndGlyphs">24 Apr 20:00</text>
<text x="388" y="846" font-size="10" fill="#000" textLength="54" lengthAdjust="spacingAndGlyphs">25 Apr 12:00</text>
<text x="452" y="846" font-size="10" fill="#000" textLength="54" lengthAdjust="spacingAndGlyphs">26 Apr 04:00</text>
<text x="516" y="846" font-size="10" fill="#000" textLength="54" lengthAdjust="spacingAndGlyphs">26 Apr 20:00</text>
<text x="580" y="846" font-size="10" fill="#000" textLength="54" lengthAdjust="spacingAndGlyphs">27 Apr 12:00</text>
<text x="644" y="846" font-size="10" fill="#000" textLength="54" lengthAdjust="spacingAndGlyphs">28 Apr 04:00</text>
<text x="708" y="846" font-size="10" fill="#000" textLength="54" lengthAdjust="spacingAndGlyphs">30 Apr 23:00</text>
<text x="772" y="846" font-size="10" fill="#000" textLength="52.6" lengthAdjust="spacingAndGlyphs">1 May 12:00</text>
<text x="836" y="846" font-size="10" fill="#000" textLength="52.6" lengthAdjust="spacingAndGlyphs">2 May 04:00</text>
<text x="900" y="846" font-size="10" fill="#000" textLength="52.6" lengthAdjust="spacingAndGlyphs">2 May 20:00</text>
<text x="964" y="846" font-size="10" fill="#000" textLength="52.6" lengthAdjust="spacingAndGlyphs">3 May 12:00</text>
<text x="1028" y="846" font-size="10" fill="#000" textLength="52.6" lengthAdjust="spacingAndGlyphs">4 May 04:00</text>
<text x="1092" y="846" font-size="10" fill="#000" textLength="52.6" lengthAdjust="spacingAndGlyphs">4 May 20:00</text>
<text x="1156" y="846" font-size="10" fill="#000" textLength="52.6" lengthAdjust="spacingAndGlyphs">5 May 12:00</text>
<text x="1220" y="846" font-size="10" fill="#000" textLength="52.6" lengthAdjust="spacingAndGlyphs">8 May 04:00</text>
<text x="1284" y="846" font-size="10" fill="#000" textLength="52.6" lengthAdjust="spacingAndGlyphs">8 May 20:00</text>
<text x="20" y="42" font-size="10" fill="#000" textLength="57.7" lengthAdjust="spacingAndGlyphs">USDCHF-,H4</text>
<text x="84.2" y="42" font-size="10" fill="#000" textLength="141.2" lengthAdjust="spacingAndGlyphs">0.88990 0.88995 0.88935 0.88946</text>
<text x="9.5" y="619" font-size="10" fill="#000" textLength="153.5" lengthAdjust="spacingAndGlyphs">MACD(12,26,9) -0.000211 -0.000495</text>
<text x="9.5" y="741" font-size="10" fill="#000" textLength="67" lengthAdjust="spacingAndGlyphs">RSI(14) 50.3791</text>
</g>
<g shape-rendering="crispEdges"><rect x="8" y="37" width="7" height="1" fill="#000"/><rect x="9" y="38" width="5" height="1" fill="#000"/><rect x="10" y="39" width="3" height="1" fill="#000"/><rect x="11" y="40" width="1" height="1" fill="#000"/></g>
<g shape-rendering="crispEdges"><rect x="1310" y="31" width="9" height="1" fill="#000"/><rect x="1311" y="32" width="7" height="1" fill="#000"/><rect x="1312" y="33" width="5" height="1" fill="#000"/><rect x="1313" y="34" width="3" height="1" fill="#000"/><rect x="1314" y="35" width="1" height="1" fill="#000"/></g>
<g shape-rendering="crispEdges">
<rect x="1646" y="269" width="41" height="11" fill="#FF0000"/>
<rect x="1646" y="310" width="41" height="11" fill="#FF0000"/>
<rect x="1646" y="370" width="41" height="11" fill="#FFA500"/>
<rect x="1646" y="411" width="41" height="11" fill="#0000FF"/>
<rect x="1646" y="449" width="41" height="11" fill="#0000FF"/>
<rect x="1646" y="358" width="41" height="11" fill="#000000"/>
</g>
<g font-family="Liberation Sans, Noto Sans CJK SC, sans-serif" font-size="10" fill="#fff" stroke="#fff" stroke-width="0.15" text-rendering="geometricPrecision">
<text x="1650" y="278" font-size="10" fill="#fff" textLength="33" lengthAdjust="spacingAndGlyphs">0.89235</text>
<text x="1650" y="319" font-size="10" fill="#fff" textLength="33" lengthAdjust="spacingAndGlyphs">0.89100</text>
<text x="1650" y="379" font-size="10" fill="#fff" textLength="33" lengthAdjust="spacingAndGlyphs">0.88902</text>
<text x="1650" y="420" font-size="10" fill="#fff" textLength="33" lengthAdjust="spacingAndGlyphs">0.88767</text>
<text x="1650" y="458" font-size="10" fill="#fff" textLength="33" lengthAdjust="spacingAndGlyphs">0.88641</text>
<text x="1650" y="367" font-size="10" fill="#fff" textLength="33" lengthAdjust="spacingAndGlyphs">0.88946</text>
</g>
<defs><pattern id="chk" width="2" height="2" patternUnits="userSpaceOnUse"><rect width="2" height="2" fill="#f0f0f0"/><rect width="1" height="1" fill="#fff"/><rect x="1" y="1" width="1" height="1" fill="#fff"/></pattern></defs>
<g shape-rendering="crispEdges">
<rect x="0" y="0" width="1692" height="26" fill="#f0f0f0"/>
<rect x="0" y="0" width="1692" height="1" fill="#fbfbfb"/>
<rect x="0" y="25" width="1692" height="1" fill="#f4f4f4"/>
<rect x="0" y="26" width="1690" height="1" fill="#a0a0a0"/>
<rect x="0" y="27" width="1690" height="1" fill="#696969"/>
<rect x="1690" y="26" width="2" height="2" fill="#f0f0f0"/>
<rect x="5" y="3" width="1" height="21" fill="#a0a0a0"/>
<rect x="6" y="3" width="1" height="21" fill="#f8f8f8"/>
<rect x="241" y="1" width="1" height="25" fill="#989898"/>
<rect x="242" y="1" width="1" height="25" fill="#fafafa"/>
<rect x="245" y="4" width="3" height="1" fill="#a0a0a0"/>
<rect x="245" y="6" width="3" height="1" fill="#a0a0a0"/>
<rect x="245" y="8" width="3" height="1" fill="#a0a0a0"/>
<rect x="245" y="10" width="3" height="1" fill="#a0a0a0"/>
<rect x="245" y="12" width="3" height="1" fill="#a0a0a0"/>
<rect x="245" y="14" width="3" height="1" fill="#a0a0a0"/>
<rect x="245" y="16" width="3" height="1" fill="#a0a0a0"/>
<rect x="245" y="18" width="3" height="1" fill="#a0a0a0"/>
<rect x="245" y="20" width="3" height="1" fill="#a0a0a0"/>
<rect x="245" y="22" width="3" height="1" fill="#a0a0a0"/>
<rect x="279" y="2" width="25" height="22" fill="url(#chk)"/>
<rect x="279" y="2" width="25" height="1" fill="#a0a0a0"/>
<rect x="279" y="2" width="1" height="22" fill="#a0a0a0"/>
<rect x="303" y="3" width="1" height="21" fill="#ffffff"/>
<rect x="280" y="23" width="24" height="1" fill="#ffffff"/>
<rect x="336" y="3" width="1" height="21" fill="#a0a0a0"/>
<rect x="337" y="3" width="1" height="21" fill="#f8f8f8"/>
<rect x="426" y="3" width="1" height="21" fill="#a0a0a0"/>
<rect x="427" y="3" width="1" height="21" fill="#f8f8f8"/>
<rect x="431" y="2" width="25" height="22" fill="url(#chk)"/>
<rect x="431" y="2" width="25" height="1" fill="#a0a0a0"/>
<rect x="431" y="2" width="1" height="22" fill="#a0a0a0"/>
<rect x="455" y="3" width="1" height="21" fill="#ffffff"/>
<rect x="432" y="23" width="24" height="1" fill="#ffffff"/>
<rect x="459" y="2" width="25" height="22" fill="url(#chk)"/>
<rect x="459" y="2" width="25" height="1" fill="#a0a0a0"/>
<rect x="459" y="2" width="1" height="22" fill="#a0a0a0"/>
<rect x="483" y="3" width="1" height="21" fill="#ffffff"/>
<rect x="460" y="23" width="24" height="1" fill="#ffffff"/>
<rect x="488" y="3" width="1" height="21" fill="#a0a0a0"/>
<rect x="489" y="3" width="1" height="21" fill="#f8f8f8"/>
<rect x="520" y="13" width="5" height="1" fill="#000"/>
<rect x="521" y="14" width="3" height="1" fill="#000"/>
<rect x="522" y="15" width="1" height="1" fill="#000"/>
<rect x="559" y="13" width="5" height="1" fill="#000"/>
<rect x="560" y="14" width="3" height="1" fill="#000"/>
<rect x="561" y="15" width="1" height="1" fill="#000"/>
<rect x="598" y="13" width="5" height="1" fill="#000"/>
<rect x="599" y="14" width="3" height="1" fill="#000"/>
<rect x="600" y="15" width="1" height="1" fill="#000"/>
<rect x="609" y="1" width="1" height="25" fill="#989898"/>
<rect x="610" y="1" width="1" height="25" fill="#fafafa"/>
<rect x="613" y="4" width="3" height="1" fill="#a0a0a0"/>
<rect x="613" y="6" width="3" height="1" fill="#a0a0a0"/>
<rect x="613" y="8" width="3" height="1" fill="#a0a0a0"/>
<rect x="613" y="10" width="3" height="1" fill="#a0a0a0"/>
<rect x="613" y="12" width="3" height="1" fill="#a0a0a0"/>
<rect x="613" y="14" width="3" height="1" fill="#a0a0a0"/>
<rect x="613" y="16" width="3" height="1" fill="#a0a0a0"/>
<rect x="613" y="18" width="3" height="1" fill="#a0a0a0"/>
<rect x="613" y="20" width="3" height="1" fill="#a0a0a0"/>
<rect x="613" y="22" width="3" height="1" fill="#a0a0a0"/>
<rect x="619" y="2" width="25" height="22" fill="url(#chk)"/>
<rect x="619" y="2" width="25" height="1" fill="#a0a0a0"/>
<rect x="619" y="2" width="1" height="22" fill="#a0a0a0"/>
<rect x="643" y="3" width="1" height="21" fill="#ffffff"/>
<rect x="620" y="23" width="24" height="1" fill="#ffffff"/>
<rect x="676" y="3" width="1" height="21" fill="#a0a0a0"/>
<rect x="677" y="3" width="1" height="21" fill="#f8f8f8"/>
<rect x="904" y="13" width="5" height="1" fill="#000"/>
<rect x="905" y="14" width="3" height="1" fill="#000"/>
<rect x="906" y="15" width="1" height="1" fill="#000"/>
<rect x="915" y="1" width="1" height="25" fill="#989898"/>
<rect x="916" y="1" width="1" height="25" fill="#fafafa"/>
<rect x="919" y="4" width="3" height="1" fill="#a0a0a0"/>
<rect x="919" y="6" width="3" height="1" fill="#a0a0a0"/>
<rect x="919" y="8" width="3" height="1" fill="#a0a0a0"/>
<rect x="919" y="10" width="3" height="1" fill="#a0a0a0"/>
<rect x="919" y="12" width="3" height="1" fill="#a0a0a0"/>
<rect x="919" y="14" width="3" height="1" fill="#a0a0a0"/>
<rect x="919" y="16" width="3" height="1" fill="#a0a0a0"/>
<rect x="919" y="18" width="3" height="1" fill="#a0a0a0"/>
<rect x="919" y="20" width="3" height="1" fill="#a0a0a0"/>
<rect x="919" y="22" width="3" height="1" fill="#a0a0a0"/>
<rect x="1065" y="2" width="25" height="22" fill="url(#chk)"/>
<rect x="1065" y="2" width="25" height="1" fill="#a0a0a0"/>
<rect x="1065" y="2" width="1" height="22" fill="#a0a0a0"/>
<rect x="1089" y="3" width="1" height="21" fill="#ffffff"/>
<rect x="1066" y="23" width="24" height="1" fill="#ffffff"/>
<rect x="1176" y="1" width="1" height="25" fill="#a0a0a0"/><rect x="1177" y="1" width="1" height="25" fill="#fbfbfb"/>
<rect x="259" y="9" width="1" height="13" fill="#555"/>
<rect x="257" y="19" width="13" height="1" fill="#555"/>
<rect x="258" y="9" width="3" height="1" fill="#555"/>
<rect x="259" y="8" width="1" height="1" fill="#555"/>
<rect x="269" y="18" width="1" height="3" fill="#555"/>
<rect x="270" y="19" width="1" height="1" fill="#555"/>
<rect x="287" y="9" width="1" height="13" fill="#555"/>
<rect x="285" y="19" width="13" height="1" fill="#555"/>
<rect x="286" y="9" width="3" height="1" fill="#555"/>
<rect x="287" y="8" width="1" height="1" fill="#555"/>
<rect x="297" y="18" width="1" height="3" fill="#555"/>
<rect x="298" y="19" width="1" height="1" fill="#555"/>
<rect x="315" y="9" width="1" height="13" fill="#555"/>
<rect x="313" y="19" width="13" height="1" fill="#555"/>
<rect x="314" y="9" width="3" height="1" fill="#555"/>
<rect x="315" y="8" width="1" height="1" fill="#555"/>
<rect x="325" y="18" width="1" height="3" fill="#555"/>
<rect x="326" y="19" width="1" height="1" fill="#555"/>
<rect x="439" y="9" width="1" height="13" fill="#555"/>
<rect x="437" y="19" width="13" height="1" fill="#555"/>
<rect x="438" y="9" width="3" height="1" fill="#555"/>
<rect x="439" y="8" width="1" height="1" fill="#555"/>
<rect x="449" y="18" width="1" height="3" fill="#555"/>
<rect x="450" y="19" width="1" height="1" fill="#555"/>
<rect x="467" y="9" width="1" height="13" fill="#555"/>
<rect x="465" y="19" width="13" height="1" fill="#555"/>
<rect x="466" y="9" width="3" height="1" fill="#555"/>
<rect x="467" y="8" width="1" height="1" fill="#555"/>
<rect x="477" y="18" width="1" height="3" fill="#555"/>
<rect x="478" y="19" width="1" height="1" fill="#555"/>
<rect x="265" y="9" width="1" height="9" fill="#008000"/><rect x="266" y="10" width="2" height="1" fill="#008000"/><rect x="263" y="16" width="2" height="1" fill="#008000"/>
<rect x="293" y="6" width="1" height="12" fill="#008000"/><rect x="291" y="8" width="5" height="8" fill="#00a000"/><rect x="292" y="9" width="3" height="6" fill="#50e060"/>
<rect x="473" y="8" width="1" height="10" fill="#2070a0"/>
<rect x="659" y="7" width="1" height="6" fill="#404040"/><rect x="659" y="16" width="1" height="6" fill="#404040"/><rect x="652" y="14" width="6" height="1" fill="#404040"/><rect x="661" y="14" width="6" height="1" fill="#404040"/>
<rect x="693" y="8" width="1" height="13" fill="#404040"/>
<rect x="716" y="14" width="12" height="1" fill="#404040"/>
<rect x="799" y="7" width="1" height="1" fill="#404040"/>
<rect x="801" y="7" width="1" height="1" fill="#404040"/>
<rect x="803" y="7" width="1" height="1" fill="#404040"/>
<rect x="805" y="7" width="1" height="1" fill="#404040"/>
<rect x="807" y="7" width="1" height="1" fill="#404040"/>
<rect x="809" y="7" width="1" height="1" fill="#404040"/>
<rect x="811" y="7" width="1" height="1" fill="#404040"/>
<rect x="799" y="10" width="1" height="1" fill="#404040"/>
<rect x="801" y="10" width="1" height="1" fill="#404040"/>
<rect x="803" y="10" width="1" height="1" fill="#404040"/>
<rect x="805" y="10" width="1" height="1" fill="#404040"/>
<rect x="807" y="10" width="1" height="1" fill="#404040"/>
<rect x="809" y="10" width="1" height="1" fill="#404040"/>
<rect x="811" y="10" width="1" height="1" fill="#404040"/>
<rect x="799" y="14" width="1" height="1" fill="#404040"/>
<rect x="801" y="14" width="1" height="1" fill="#404040"/>
<rect x="803" y="14" width="1" height="1" fill="#404040"/>
<rect x="805" y="14" width="1" height="1" fill="#404040"/>
<rect x="807" y="14" width="1" height="1" fill="#404040"/>
<rect x="809" y="14" width="1" height="1" fill="#404040"/>
<rect x="811" y="14" width="1" height="1" fill="#404040"/>
<rect x="799" y="18" width="1" height="1" fill="#404040"/>
<rect x="801" y="18" width="1" height="1" fill="#404040"/>
<rect x="803" y="18" width="1" height="1" fill="#404040"/>
<rect x="805" y="18" width="1" height="1" fill="#404040"/>
<rect x="807" y="18" width="1" height="1" fill="#404040"/>
<rect x="857" y="8" width="1" height="1" fill="#404040"/>
<rect x="857" y="20" width="1" height="1" fill="#404040"/>
<rect x="859" y="8" width="1" height="1" fill="#404040"/>
<rect x="859" y="20" width="1" height="1" fill="#404040"/>
<rect x="861" y="8" width="1" height="1" fill="#404040"/>
<rect x="861" y="20" width="1" height="1" fill="#404040"/>
<rect x="863" y="8" width="1" height="1" fill="#404040"/>
<rect x="863" y="20" width="1" height="1" fill="#404040"/>
<rect x="865" y="8" width="1" height="1" fill="#404040"/>
<rect x="865" y="20" width="1" height="1" fill="#404040"/>
<rect x="867" y="8" width="1" height="1" fill="#404040"/>
<rect x="867" y="20" width="1" height="1" fill="#404040"/>
<rect x="856" y="10" width="1" height="1" fill="#404040"/>
<rect x="868" y="10" width="1" height="1" fill="#404040"/>
<rect x="856" y="12" width="1" height="1" fill="#404040"/>
<rect x="868" y="12" width="1" height="1" fill="#404040"/>
<rect x="856" y="14" width="1" height="1" fill="#404040"/>
<rect x="868" y="14" width="1" height="1" fill="#404040"/>
<rect x="856" y="16" width="1" height="1" fill="#404040"/>
<rect x="868" y="16" width="1" height="1" fill="#404040"/>
<rect x="856" y="18" width="1" height="1" fill="#404040"/>
<rect x="868" y="18" width="1" height="1" fill="#404040"/>
<rect x="856" y="20" width="1" height="1" fill="#404040"/>
<rect x="868" y="20" width="1" height="1" fill="#404040"/>
<rect x="855" y="7" width="2" height="2" fill="#404040"/>
<rect x="858" y="11" width="8" height="1" fill="#404040"/><rect x="861" y="11" width="2" height="8" fill="#484848"/>
</g>
<path d="M16.5,6.5 h7 l3,3 v8.5 q0,1 -1,1 h-9 q-1,0 -1,-1 v-10.5 q0,-1 1,-1z" fill="#fff" stroke="#787878" stroke-width="1"/>
<path d="M23.5,6.5 v3 h3" fill="#e8e8e8" stroke="#787878" stroke-width="0.8"/>
<rect x="17.3" y="8.3" width="2.8" height="1.4" fill="#8a8a8a"/><rect x="17.3" y="12" width="6" height="0.9" fill="#909090"/><rect x="17.3" y="14.2" width="4.6" height="0.9" fill="#909090"/><rect x="17.3" y="16.2" width="2" height="0.9" fill="#909090"/>
<path d="M23.5,12.5 h3 v4 h4 v3 h-4 v4 h-3 v-4 h-4 v-3 h4z" fill="#22d030" stroke="#0a9a18" stroke-width="1" shape-rendering="crispEdges"/>
<path d="M24,13 h1 v4.5 h-1z M20,17 h9.5 v1 h-9.5z" fill="#90f8a0" opacity="0.85"/>
<path d="M499.5,6.5 h7 l3,3 v8.5 q0,1 -1,1 h-9 q-1,0 -1,-1 v-10.5 q0,-1 1,-1z" fill="#fff" stroke="#787878" stroke-width="1"/>
<path d="M506.5,6.5 v3 h3" fill="#e8e8e8" stroke="#787878" stroke-width="0.8"/>
<path d="M502,9 q-1.5,0 -1.5,2 v5 q0,2 1.5,2" fill="none" stroke="#555" stroke-width="1"/>
<path d="M506.5,12.5 h3 v4 h4 v3 h-4 v4 h-3 v-4 h-4 v-3 h4z" fill="#22d030" stroke="#0a9a18" stroke-width="1" shape-rendering="crispEdges"/>
<path d="M507,13 h1 v4.5 h-1z M503,17 h9.5 v1 h-9.5z" fill="#90f8a0" opacity="0.85"/>
<defs><linearGradient id="gd" x1="0" y1="0" x2="1" y2="1"><stop offset="0" stop-color="#f6d24a"/><stop offset="0.5" stop-color="#f0c020"/><stop offset="1" stop-color="#d8980c"/></linearGradient><linearGradient id="rd" x1="0" y1="0" x2="0" y2="1"><stop offset="0" stop-color="#ee5a3a"/><stop offset="1" stop-color="#d01c0c"/></linearGradient><linearGradient id="bl" x1="0" y1="0" x2="0" y2="1"><stop offset="0" stop-color="#2a9af8"/><stop offset="1" stop-color="#0a5ac8"/></linearGradient><linearGradient id="cl" x1="0" y1="0" x2="0" y2="1"><stop offset="0" stop-color="#ffffff"/><stop offset="1" stop-color="#b8cce8"/></linearGradient><radialGradient id="lens" cx="0.4" cy="0.35" r="0.7"><stop offset="0" stop-color="#ffffff"/><stop offset="1" stop-color="#bfe4fb"/></radialGradient></defs>
<path d="M82.3,15.4 L90.2,20.6 L97.8,14.4 L97.8,16 L90.2,22 L82.3,17z" fill="#c48a14" stroke="#a86408" stroke-width="0.8" stroke-linejoin="round"/>
<path d="M87.6,7.2 L89,7 L97.8,14.3 L90.2,20.5 L82.3,15.4 Q85.6,11.6 87.6,7.2z" fill="url(#gd)" stroke="#b06a08" stroke-width="0.9" stroke-linejoin="round"/>
<path d="M83,16.4 L90.2,21.2 L97.4,15.4" fill="none" stroke="#f0d890" stroke-width="0.5"/>
<path d="M112.3,6.4 h8.4 l2.4,1.7 v7.6 h-10.8z" fill="#18a6ff" stroke="#3a8ae8" stroke-width="0.6"/>
<path d="M112.3,6.4 h8.4 l2.4,1.7 h-8.2z" fill="#4f97ea"/>
<path d="M112.8,6.9 l2.6,2.2 v6.2" fill="none" stroke="#eaf7ff" stroke-width="0.75"/>
<rect x="117.2" y="10.6" width="4.7" height="1.25" fill="#ffffff"/>
<rect x="116.2" y="12.3" width="6.8" height="0.5" fill="#9fdcff"/>
<path d="M112.6,21.6 C110.6,21.6 110.2,20.2 110.4,19.2 C110.6,17.8 111.6,17.2 112.6,17.2 C112.8,15.9 114,15.2 115.2,15.3 C115.8,15.3 116.3,15.5 116.7,15.8 C117.1,14.9 118,14.4 119,14.4 C120.3,14.4 121.1,15.2 121.4,16 C122,15.4 122.9,15.2 123.7,15.5 C125.2,16 125.9,17.4 125.7,18.6 C126.2,19.4 125.9,21.6 124,21.6 Z" fill="url(#cl)" stroke="#3f5f9c" stroke-width="0.9"/>
<defs><linearGradient id="rg" x1="0.2" y1="0" x2="0.7" y2="1"><stop offset="0" stop-color="#e4f0e4"/><stop offset="0.55" stop-color="#a8d4a8"/><stop offset="1" stop-color="#2fa02f"/></linearGradient></defs>
<path d="M146,5.7 a8,8 0 0 1 0,16 z" fill="url(#rg)" opacity="0.85"/>
<g fill="none"><path d="M146,8.3 a5.4,5.4 0 0 1 0,10.8" stroke="#f4faf4" stroke-width="1" opacity="0.75"/><path d="M146,10.7 a3,3 0 0 1 0,6" stroke="#f4faf4" stroke-width="0.9" opacity="0.7"/><path d="M146,5.7 a8,8 0 0 1 7.6,5.6" stroke="#6f9a9a" stroke-width="0.8" opacity="0.6"/><path d="M145.6,5.7 a8,8 0 0 0 -2.6,15.4" stroke="#4f7fd8" stroke-width="0.9" opacity="0.62" stroke-dasharray="1.7 0.6"/><path d="M145.4,8.6 a5.1,5.1 0 0 0 -1.8,9.4" stroke="#5a86d8" stroke-width="0.9" opacity="0.6" stroke-dasharray="1.6 0.6"/><path d="M145.4,11 a2.8,2.8 0 0 0 -1,4.6" stroke="#8aa8e4" stroke-width="0.8" opacity="0.7"/></g>
<circle cx="145.8" cy="13.3" r="1.8" fill="#2a54d0"/><rect x="145.9" y="13.9" width="1.3" height="8" fill="#18a018"/>
<path d="M165.5,13.5 L172.5,21.5 L178,21.5 L181,14z" fill="#f7e060" stroke="#d8a810" stroke-width="1" stroke-linejoin="round"/>
<ellipse cx="173.2" cy="11.6" rx="7.8" ry="2.7" fill="#4aa8e0" stroke="#1e86c4" stroke-width="0.9"/>
<path d="M169.3,11 q-0.3,-4.6 3.8,-4.8 q4,0.2 3.8,4.8 q-3.8,1.8 -7.6,0z" fill="#62b8ea" stroke="#1e86c4" stroke-width="0.8"/>
<path d="M170.6,8.4 q2,-1.4 4,-0.6" fill="none" stroke="#b8e2f8" stroke-width="0.9"/>
<circle cx="177.6" cy="17.8" r="4.3" fill="#d8200c"/><rect x="176" y="16.3" width="3.2" height="3.2" fill="#fff"/>
<path d="M314,17 Q317.5,12 320.4,11.3 Q322.5,11.5 325.6,15" fill="none" stroke="#2a9a2a" stroke-width="1.3"/>
<line x1="355" y1="15.8" x2="359.6" y2="20.4" stroke="#a87c08" stroke-width="3.4" stroke-linecap="butt"/>
<line x1="355" y1="15.8" x2="359.6" y2="20.4" stroke="#f0d040" stroke-width="1.8" stroke-linecap="butt"/>
<circle cx="351" cy="11.9" r="5.25" fill="url(#lens)" stroke="#2f76c8" stroke-width="1.3"/>
<rect x="348" y="11.2" width="6" height="1.6" fill="#3c82b4"/>
<rect x="350.2" y="9" width="1.6" height="6" fill="#3c82b4"/>
<line x1="383" y1="15.8" x2="387.6" y2="20.4" stroke="#a87c08" stroke-width="3.4" stroke-linecap="butt"/>
<line x1="383" y1="15.8" x2="387.6" y2="20.4" stroke="#f0d040" stroke-width="1.8" stroke-linecap="butt"/>
<circle cx="379" cy="11.9" r="5.25" fill="url(#lens)" stroke="#2f76c8" stroke-width="1.3"/>
<rect x="376" y="11.2" width="6" height="1.6" fill="#3c82b4"/>
<rect x="401.3" y="6.2" width="7.6" height="7.8" rx="0.8" fill="#3aa81c"/>
<rect x="401.3" y="6.2" width="7.6" height="2.2" rx="0.8" fill="#2a8a10"/>
<path d="M402.6,12.8 v-3.4 h5 v3.4 h-1 v-1 h-3 v1z" fill="#fff"/>
<rect x="402.3" y="7.2" width="1" height="1" fill="#fff" opacity="0.8"/>
<rect x="409.2" y="6.2" width="7.6" height="7.8" rx="0.8" fill="#2a5ce0"/>
<rect x="409.2" y="6.2" width="7.6" height="2.2" rx="0.8" fill="#1a40c0"/>
<path d="M410.5,12.8 v-3.4 h5 v3.4 h-1 v-1 h-3 v1z" fill="#fff"/>
<rect x="410.2" y="7.2" width="1" height="1" fill="#fff" opacity="0.8"/>
<rect x="401.3" y="14.2" width="7.6" height="7.8" rx="0.8" fill="#2a5ce0"/>
<rect x="401.3" y="14.2" width="7.6" height="2.2" rx="0.8" fill="#1a40c0"/>
<path d="M402.6,20.799999999999997 v-3.4 h5 v3.4 h-1 v-1 h-3 v1z" fill="#fff"/>
<rect x="402.3" y="15.2" width="1" height="1" fill="#fff" opacity="0.8"/>
<rect x="409.2" y="14.2" width="7.6" height="7.8" rx="0.8" fill="#3aa81c"/>
<rect x="409.2" y="14.2" width="7.6" height="2.2" rx="0.8" fill="#2a8a10"/>
<path d="M410.5,20.799999999999997 v-3.4 h5 v3.4 h-1 v-1 h-3 v1z" fill="#fff"/>
<rect x="410.2" y="15.2" width="1" height="1" fill="#fff" opacity="0.8"/>
<path d="M444.3,10.4 L447.8,13.5 L444.3,16.6z" fill="#7be07b" stroke="#0a9a0a" stroke-width="1" stroke-linejoin="round"/>
<path d="M474.6,13.5 L477.2,11.2 L477.2,12.9 L479,12.9 L479,14.1 L477.2,14.1 L477.2,15.8z" fill="#e85a10" stroke="#c04000" stroke-width="0.5"/>
<circle cx="544" cy="13.9" r="6.8" fill="#fff" stroke="url(#bl)" stroke-width="2.2"/>
<circle cx="544" cy="13.9" r="7.8" fill="none" stroke="#0a50b0" stroke-width="0.5"/>
<path d="M543.6,10 V14 H546.6" fill="none" stroke="#222" stroke-width="1.2"/>
<g fill="#888"><rect x="543.6" y="8.2" width="0.8" height="1"/><rect x="543.6" y="18.4" width="0.8" height="1"/><rect x="538.6" y="13.4" width="1" height="0.8"/><rect x="548.6" y="13.4" width="1" height="0.8"/></g>
<rect x="575.5" y="7.5" width="15" height="13" rx="0.8" fill="#fff" stroke="#2f6cc0" stroke-width="1.2"/>
<rect x="575.5" y="7.5" width="15" height="2.3" fill="#3f80d8"/><rect x="576.5" y="8" width="5" height="0.9" fill="#cfe2fa"/>
<rect x="576" y="14.4" width="14" height="1" fill="#4a84d4"/>
<path d="M577.5,13 h1.6 l1.6,-1 h1.6 l1.6,1 h1.8 l1.8,-1" fill="none" stroke="#a81808" stroke-width="1.1"/>
<path d="M578.5,18.4 h1.4 l1.4,-0.9 l1.6,0.9 h1.2 l1.8,-1.9 l1.2,0.5 l1.2,1.5" fill="none" stroke="#0a8a1a" stroke-width="1.1"/>
<path d="M627.3,6.8 L627.3,18 L629.9,15.6 L632,20.8 L633.6,20.1 L631.5,15 L634.9,14.7z" fill="#404040"/>
<line x1="743.8" y1="20.8" x2="756" y2="8.8" stroke="#484848" stroke-width="0.85"/>
<g stroke="#383838" stroke-width="1.05" fill="none"><line x1="770" y1="15.5" x2="778" y2="8"/><line x1="775" y1="21" x2="784" y2="12.5"/><line x1="771" y1="20.6" x2="782" y2="10"/><line x1="773" y1="14" x2="772.3" y2="20"/><line x1="776" y1="12" x2="775.3" y2="18.5"/><line x1="779" y1="10" x2="778.3" y2="16"/><line x1="781.6" y1="6.3" x2="781.8" y2="13.4"/></g>
<line x1="1643.4" y1="14.8" x2="1639.4" y2="18.8" stroke="#2a5cd0" stroke-width="2.6" stroke-linecap="round"/>
<circle cx="1646.6" cy="11.3" r="4" fill="#f8faff" stroke="#2458d0" stroke-width="1.4"/>
<path d="M1664,15.5 q0,-4 5,-4 q5,0 5,4 q0,3.6 -5,3.8 h-1.6 l-2.2,2.2 v-2.6 q-1.2,-1 -1.2,-3.4z" fill="#e4e6f0" stroke="#aab0b8" stroke-width="1"/>
<circle cx="1677.6" cy="11.5" r="8.3" fill="url(#rd)"/>
<g font-family="Liberation Sans, Noto Sans CJK SC, sans-serif" text-rendering="geometricPrecision">
<text x="33.4" y="16.7" font-size="11.5" fill="#000" stroke="#000" stroke-width="0.2" textLength="37" lengthAdjust="spacingAndGlyphs">新订单</text>
<text x="186.2" y="16.7" font-size="11.5" fill="#000" stroke="#000" stroke-width="0.2" textLength="47.6" lengthAdjust="spacingAndGlyphs">自动交易</text>
<text x="930.6" y="18" font-size="10" fill="#303030" textLength="12.6" lengthAdjust="spacingAndGlyphs">M1</text>
<text x="958.6" y="18" font-size="10" fill="#303030" textLength="12.6" lengthAdjust="spacingAndGlyphs">M5</text>
<text x="984.3" y="18" font-size="10" fill="#303030" textLength="18" lengthAdjust="spacingAndGlyphs">M15</text>
<text x="1012.4" y="18" font-size="10" fill="#303030" textLength="18" lengthAdjust="spacingAndGlyphs">M30</text>
<text x="1043.6" y="18" font-size="10" fill="#303030" textLength="11.8" lengthAdjust="spacingAndGlyphs">H1</text>
<text x="1070.7" y="18" font-size="10" fill="#303030" textLength="12.2" lengthAdjust="spacingAndGlyphs">H4</text>
<text x="1099.3" y="18" font-size="10" fill="#303030" textLength="11.9" lengthAdjust="spacingAndGlyphs">D1</text>
<text x="1127" y="18" font-size="10" fill="#303030" textLength="14.3" lengthAdjust="spacingAndGlyphs">W1</text>
<text x="1153.7" y="18" font-size="10" fill="#303030" textLength="14.7" lengthAdjust="spacingAndGlyphs">MN</text>
<text x="830" y="18.8" font-size="12.4" fill="#404040" textLength="7.4" lengthAdjust="spacingAndGlyphs">A</text>
<text x="781" y="22.9" font-size="6.6" font-weight="bold" fill="#303030">E</text>
<text x="808.8" y="22.9" font-size="6.6" font-weight="bold" fill="#303030">F</text>
<text x="1677.6" y="16" font-size="12.5" fill="#fff" text-anchor="middle">1</text>
</g>
<path d="M886.5,7.8 L890,11 L889,12.3 L884,12.3 L883,11z" fill="#505050"/>
<path d="M893.8,21 L897.2,17.6 L896.2,16.4 L891.2,16.4 L890.2,17.6z" fill="#505050"/>
<path d="M885.6,15.2 L887.6,17.2 L891.8,12.2" fill="none" stroke="#404040" stroke-width="1.1"/>
</svg>
</body></html>
